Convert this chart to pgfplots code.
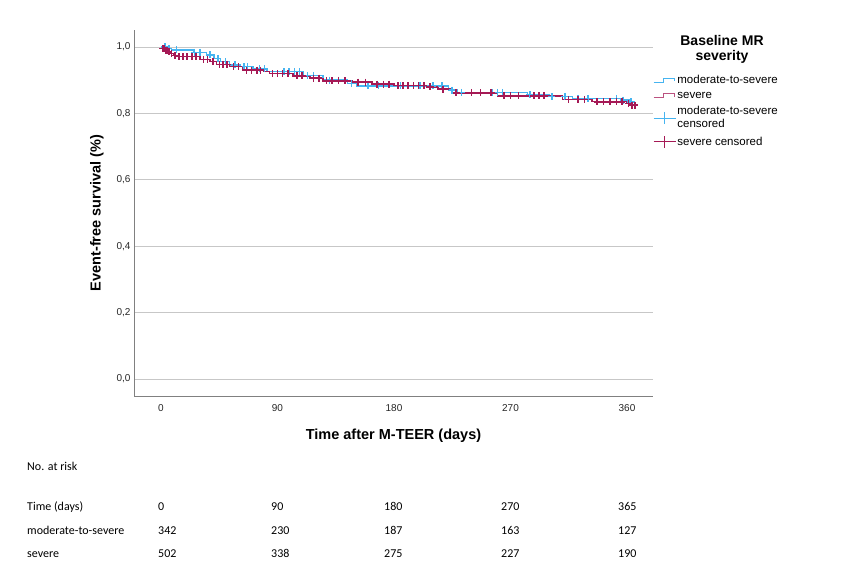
\documentclass[border=0pt]{standalone}
\usepackage{fontspec}
\setmainfont{Liberation Sans}
\newfontfamily\tablefont{Carlito}
\usepackage{pgfplots}
\pgfplotsset{compat=1.18}
\definecolor{msblue}{RGB}{70,180,240}
\definecolor{svred}{RGB}{165,25,85}

\pgfplotstableread{
day S
0 1.000
5 0.995
8 0.991
25 0.984
35 0.976
41 0.966
46 0.956
53 0.946
61 0.941
71 0.934
82 0.926
110 0.914
125 0.900
144 0.890
151 0.883
222 0.870
229 0.863
283 0.857
300 0.851
318 0.845
355 0.840
362 0.835
366 0.835
}\bluecurve

\pgfplotstableread{
day S
0 1.000
1 0.995
3 0.990
5 0.985
7 0.980
10 0.975
12 0.971
30 0.963
38 0.956
43 0.948
53 0.941
63 0.930
79 0.926
84 0.920
102 0.913
115 0.906
125 0.898
148 0.894
163 0.888
180 0.884
205 0.880
214 0.873
225 0.862
260 0.853
310 0.842
333 0.835
360 0.830
363 0.825
366 0.825
}\redcurve

\pgfplotstableread{
day S
3 1.000
6 0.995
12 0.991
26 0.984
30 0.984
38 0.976
44 0.966
50 0.956
57 0.946
64 0.941
67 0.941
76 0.934
80 0.934
95 0.926
99 0.926
103 0.926
107 0.926
113 0.914
118 0.914
130 0.900
137 0.900
147 0.890
160 0.883
168 0.883
185 0.883
200 0.883
210 0.883
217 0.883
225 0.870
232 0.863
240 0.863
256 0.863
260 0.863
264 0.863
285 0.857
302 0.851
312 0.851
322 0.845
330 0.845
352 0.845
357 0.840
363 0.835
}\bluecens

\pgfplotstableread{
day S
1.5 0.995
2.5 0.995
3.5 0.990
4.5 0.990
6 0.985
8 0.980
11 0.975
14 0.971
17 0.971
20 0.971
24 0.971
27 0.971
33 0.963
36 0.963
40 0.956
45 0.948
48 0.948
51 0.948
56 0.941
60 0.941
66 0.930
70 0.930
74 0.930
77 0.930
86 0.920
90 0.920
94 0.920
98 0.920
105 0.913
109 0.913
118 0.906
122 0.906
128 0.898
132 0.898
137 0.898
142 0.898
152 0.894
158 0.894
167 0.888
172 0.888
176 0.888
183 0.884
187 0.884
191 0.884
195 0.884
199 0.884
203 0.884
208 0.880
218 0.873
228 0.862
240 0.862
247 0.862
255 0.862
265 0.853
270 0.853
276 0.853
288 0.853
292 0.853
296 0.853
315 0.842
322 0.842
327 0.842
337 0.835
342 0.835
347 0.835
352 0.835
356 0.835
361 0.830
364 0.825
366 0.825
}\redcens

\begin{document}
\begin{tikzpicture}[x=1pt,y=1pt]
\path[use as bounding box] (0pt,0pt) rectangle (848pt,574pt);
\begin{axis}[
  at={(134pt,178pt)}, anchor=south west,
  scale only axis, width=519pt, height=366pt,
  xmin=-20.86, xmax=380.1, ymin=-0.0512, ymax=1.0512,
  axis x line*=bottom, axis y line*=left,
  axis line style={-, draw=black!50, line width=0.8pt},
  xtick={0,90,180,270,360}, ytick={0,0.2,0.4,0.6,0.8,1.0},
  major tick length=0pt,
  ymajorgrids, grid style={draw=black!22, line width=0.9pt},
  yticklabel={\pgfmathprintnumber[fixed,fixed zerofill,precision=1,use comma,assume math mode=true]{\tick}},
  xticklabel={\pgfmathprintnumber[fixed,precision=0,assume math mode=true]{\tick}},
  tick label style={font=\fontsize{10}{12}\selectfont, text=black!85},
  xticklabel style={yshift=-4.5pt},
  xlabel={Time after M-TEER (days)},
  ylabel={Event-free survival (\%)},
  xlabel style={at={(axis description cs:0.5,-0.1093)}, anchor=center, font=\bfseries\fontsize{14.5}{16}\selectfont},
  ylabel style={at={(axis description cs:-0.0713,0.5)}, anchor=center, font=\bfseries\fontsize{14.5}{16}\selectfont},
  legend style={at={(axis description cs:1.0,0.880)}, anchor=north west, draw=none, fill=none,
    font=\fontsize{11.5}{13}\selectfont, row sep=4.5pt, inner sep=0pt,
    nodes={inner sep=1.2pt}, cells={align=left}},
  legend cell align=left,
  clip=false,
]
\addplot[const plot, draw=msblue, line width=1.4pt,
  legend image code/.code={\draw[draw=msblue,line width=1pt] (0pt,-2pt) -- (10pt,-2pt) -- (10pt,2pt) -- (21pt,2pt) -- (21pt,-1pt);}]
  table[x=day,y=S] {\bluecurve};
\addlegendentry{moderate-to-severe}
\addplot[const plot, draw=svred, line width=1.4pt,
  legend image code/.code={\draw[draw=svred!75,line width=1pt] (0pt,-2pt) -- (10pt,-2pt) -- (10pt,2pt) -- (21pt,2pt) -- (21pt,-1pt);}]
  table[x=day,y=S] {\redcurve};
\addlegendentry{severe}
\addplot[only marks, mark=+, mark size=3.5pt, msblue, mark options={line width=1.5pt, draw=msblue},
  legend image code/.code={\draw[draw=msblue,line width=1pt] (0pt,0pt) -- (22pt,0pt); \draw[draw=msblue,line width=1pt] (11pt,-6pt) -- (11pt,6pt);}]
  table[x=day,y=S] {\bluecens};
\addlegendentry{moderate-to-severe\\censored}
\addplot[only marks, mark=+, mark size=3.5pt, svred, mark options={line width=1.5pt, draw=svred},
  legend image code/.code={\draw[draw=svred,line width=1pt] (0pt,0pt) -- (22pt,0pt); \draw[draw=svred,line width=1pt] (11pt,-6pt) -- (11pt,6pt);}]
  table[x=day,y=S] {\redcens};
\addlegendentry{severe censored}
\end{axis}
\node[align=center, font=\bfseries\fontsize{14}{15}\selectfont] at (722pt,524.5pt) {Baseline MR\\severity};
\begin{scope}[every node/.style={anchor=base west, inner sep=0pt, font=\tablefont\fontsize{12}{14}\selectfont}]
\node at (27pt,104pt) {No. at risk};
\node at (27pt,64pt) {Time (days)};
\node at (27pt,40pt) {moderate-to-severe};
\node at (27pt,17pt) {severe};
\node at (158pt,64pt) {0};   \node at (271pt,64pt) {90};  \node at (384pt,64pt) {180}; \node at (501pt,64pt) {270}; \node at (618pt,64pt) {365};
\node at (158pt,40pt) {342}; \node at (271pt,40pt) {230}; \node at (384pt,40pt) {187}; \node at (501pt,40pt) {163}; \node at (618pt,40pt) {127};
\node at (158pt,17pt) {502}; \node at (271pt,17pt) {338}; \node at (384pt,17pt) {275}; \node at (501pt,17pt) {227}; \node at (618pt,17pt) {190};
\end{scope}
\end{tikzpicture}
\end{document}
